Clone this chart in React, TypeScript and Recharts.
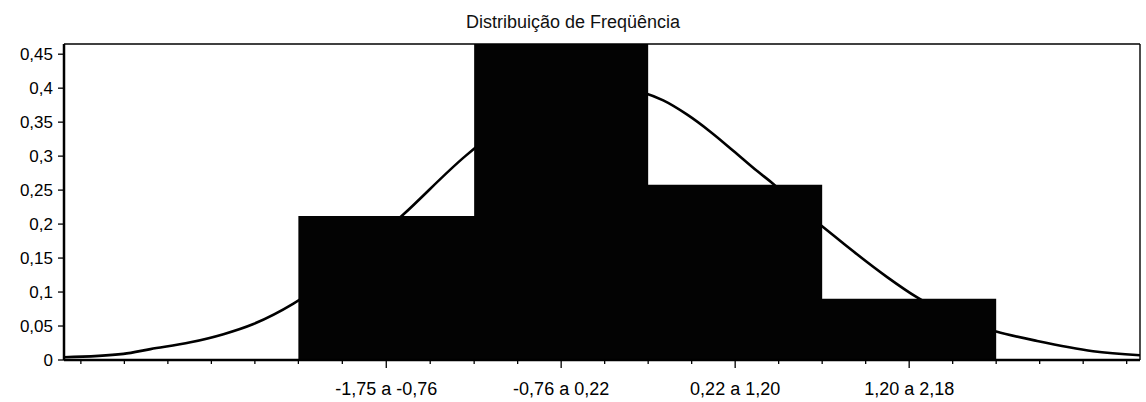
import { ComposedChart, Area, XAxis, YAxis, ReferenceLine } from "recharts"

// histogram bins (class limits) and relative frequency
const binEdges = [-1.75, -0.76, 0.22, 1.2, 2.18]
const binCenters = [-1.255, -0.27, 0.71, 1.69]
const binLabels = ["-1,75 a -0,76", "-0,76 a 0,22", "0,22 a 1,20", "1,20 a 2,18"]
const binFreq = [0.212, 0.468, 0.258, 0.09]

// normal curve
const curveX = [
  -3.07, -2.735, -2.583, -2.358, -2.172, -2.003, -1.778, -1.5, -1.159, -0.81, -0.5, -0.25, 0, 0.187,
  0.305, 0.44, 0.57, 0.699, 0.834, 0.925, 1.05, 1.189, 1.313, 1.375, 1.566, 1.735, 1.95, 2.18, 2.411,
  2.726, 2.99,
]
const curveY = [
  0.004, 0.009, 0.016, 0.026, 0.038, 0.053, 0.083, 0.135, 0.214, 0.3, 0.362, 0.394, 0.404, 0.394,
  0.382, 0.361, 0.336, 0.308, 0.278, 0.259, 0.228, 0.199, 0.173, 0.16, 0.122, 0.092, 0.062, 0.042,
  0.028, 0.013, 0.007,
]

const yTicks = [0, 0.05, 0.1, 0.15, 0.2, 0.25, 0.3, 0.35, 0.4, 0.45]
const xTicks = [
  -2.975, -2.73, -2.485, -2.24, -1.995, -1.75, -1.5025, -1.255, -1.0075, -0.76, -0.515, -0.27, -0.025,
  0.22, 0.465, 0.71, 0.955, 1.2, 1.445, 1.69, 1.935, 2.18, 2.425, 2.67, 2.915,
]

const xMin = -3.07
const xMax = 2.99
const yMax = 0.465

const histData = binEdges.map((e, i) => ({ x: e, f: binFreq[Math.min(i, binFreq.length - 1)] }))
const curveData = curveX.map((x, i) => ({ x, y: curveY[i] }))

const FONT = '"Liberation Sans", Arial, sans-serif'

function XTick(props: any) {
  const { x, y, payload } = props
  const i = binCenters.indexOf(payload.value)
  const major = i >= 0
  return (
    <g>
      <line x1={x} x2={x} y1={y} y2={y + (major ? 8 : 4)} stroke="#000" strokeWidth={1.3} />
      {major && (
        <text x={x} y={y + 35} textAnchor="middle" fontSize={18} fontFamily={FONT} fill="#000">
          {binLabels[i]}
        </text>
      )}
    </g>
  )
}

export default function App() {
  return (
    <div style={{ position: "absolute", left: 0, top: 0, width: 1146, height: 402, background: "#fff" }}>
      <div
        style={{
          position: "absolute",
          left: 0,
          top: 13,
          width: 1146,
          textAlign: "center",
          fontFamily: FONT,
          fontSize: 18,
          lineHeight: "18px",
          color: "#111",
        }}
      >
        Distribuição de Freqüência
      </div>
      <ComposedChart width={1146} height={402} margin={{ top: 44, right: 6, bottom: 6, left: 8 }}>
        <XAxis
          dataKey="x"
          type="number"
          domain={[xMin, xMax]}
          allowDataOverflow
          ticks={xTicks}
          interval={0}
          tick={<XTick />}
          tickLine={false}
          tickSize={0}
          tickMargin={0}
          height={36}
          axisLine={{ stroke: "#000", strokeWidth: 2.5 }}
        />
        <YAxis
          type="number"
          domain={[0, yMax]}
          allowDataOverflow
          ticks={yTicks}
          interval={0}
          width={56}
          tickSize={6}
          tickMargin={5}
          tickFormatter={(v: number) => String(v).replace(".", ",")}
          tick={{ fontSize: 17, fontFamily: FONT, fill: "#000" }}
          tickLine={{ stroke: "#000", strokeWidth: 1.3 }}
          axisLine={{ stroke: "#000", strokeWidth: 2.5 }}
        />
        <ReferenceLine y={yMax} stroke="#000" strokeWidth={1.6} />
        <ReferenceLine x={xMax} stroke="#000" strokeWidth={1.4} />
        {/* curve first so the bars cover it */}
        <Area
          data={curveData}
          dataKey="y"
          type="monotone"
          stroke="#000"
          strokeWidth={2.6}
          fill="none"
          fillOpacity={0}
          dot={false}
          activeDot={false}
          isAnimationActive={false}
        />
        <Area
          data={histData}
          dataKey="f"
          type="stepAfter"
          fill="#030303"
          fillOpacity={1}
          stroke="none"
          activeDot={false}
          isAnimationActive={false}
        />
      </ComposedChart>
    </div>
  )
}
